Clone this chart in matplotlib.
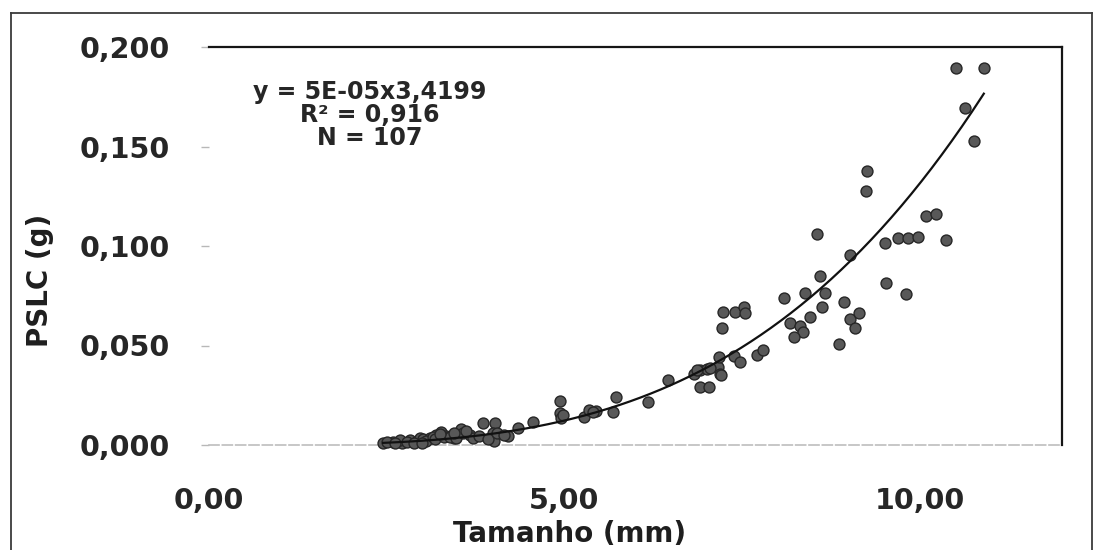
import numpy as np
import matplotlib
matplotlib.use("Agg")
import matplotlib.pyplot as plt
from matplotlib.ticker import FuncFormatter, FixedLocator
from matplotlib.lines import Line2D

# ---- data ----
tamanho_mm = [
    2.45, 2.59, 2.71, 2.83, 2.92, 2.97, 3.01, 3.11, 3.20, 3.27,
    3.34, 3.44, 3.53, 3.55, 3.67, 3.72, 3.86, 4.02, 4.00, 4.01,
    4.21, 4.35, 4.56, 4.94, 4.94, 4.95, 5.27, 5.34, 5.45, 5.68,
    5.73, 6.17, 6.46, 6.82, 6.91, 7.00, 7.16, 7.19, 6.91, 7.03,
    7.18, 7.39, 7.47, 7.71, 7.80, 7.21, 7.23, 7.40, 7.53, 7.54,
    8.09, 8.17, 8.31, 8.36, 8.23, 8.38, 8.45, 8.56, 8.59, 8.66,
    8.63, 8.86, 8.93, 9.02, 9.02, 9.15, 9.09, 9.25, 9.24, 9.51,
    9.53, 9.69, 9.84, 9.98, 9.80, 10.09, 10.23, 10.37, 10.51, 10.63,
    10.76, 10.90, 2.50, 2.69, 2.78, 2.88, 3.05, 3.15, 3.18, 3.30,
    3.39, 3.48, 3.58, 3.62, 3.80, 3.92, 4.05, 4.15, 2.62, 3.25,
    3.45, 6.86, 7.05, 7.20, 5.40, 4.98, 3.00,
]
pslc_g = [
    0.0008, 0.0015, 0.0010, 0.0025, 0.0020, 0.0034, 0.0029, 0.0035, 0.0050, 0.0065,
    0.0045, 0.0034, 0.0059, 0.0079, 0.0050, 0.0034, 0.0109, 0.0110, 0.0059, 0.0020,
    0.0045, 0.0084, 0.0115, 0.0223, 0.0159, 0.0134, 0.0139, 0.0176, 0.0172, 0.0167,
    0.0241, 0.0218, 0.0327, 0.0359, 0.0379, 0.0380, 0.0393, 0.0357, 0.0290, 0.0290,
    0.0441, 0.0447, 0.0415, 0.0452, 0.0477, 0.0588, 0.0666, 0.0666, 0.0695, 0.0662,
    0.0740, 0.0615, 0.0598, 0.0569, 0.0541, 0.0765, 0.0645, 0.1060, 0.0851, 0.0766,
    0.0695, 0.0508, 0.0718, 0.0955, 0.0633, 0.0664, 0.0588, 0.1378, 0.1276, 0.1017,
    0.0816, 0.1039, 0.1042, 0.1047, 0.0759, 0.1151, 0.1159, 0.1029, 0.1894, 0.1691,
    0.1529, 0.1894, 0.0017, 0.0025, 0.0017, 0.0012, 0.0020, 0.0042, 0.0030, 0.0040,
    0.0042, 0.0034, 0.0059, 0.0070, 0.0045, 0.0030, 0.0060, 0.0050, 0.0008, 0.0055,
    0.0060, 0.0377, 0.0385, 0.0352, 0.0165, 0.0150, 0.0010,
]
# power trendline shown on the chart: y = 5E-05 x^3,4199
fit_a = 5e-5
fit_b = 3.4199
x_ticks = [0, 5, 10]
y_ticks = [0.0, 0.05, 0.10, 0.15, 0.20]
eq_text = "y = 5E-05x3,4199\nR² = 0,916\nN = 107"

W, H = 1105, 550
fig = plt.figure(figsize=(W / 100, H / 100), dpi=100)
fig.patch.set_facecolor("white")

L, R, T, B = 209, 1062, 47, 445
ax = fig.add_axes([L / W, 1 - B / H, (R - L) / W, (B - T) / H])
ax.set_facecolor("white")

ax.scatter(tamanho_mm, pslc_g, s=62, facecolor="#585858", edgecolor="#262626",
           linewidth=1.0, zorder=3, clip_on=False)

xs = np.linspace(min(tamanho_mm), max(tamanho_mm), 300)
ax.plot(xs, fit_a * xs ** fit_b, color="#111111", lw=1.6, zorder=4)

ax.set_xlim(0, 12)
ax.set_ylim(0, 0.2)
ax.xaxis.set_major_locator(FixedLocator(x_ticks))
ax.yaxis.set_major_locator(FixedLocator(y_ticks))
ax.xaxis.set_major_formatter(FuncFormatter(lambda v, p: f"{v:.2f}".replace(".", ",")))
ax.yaxis.set_major_formatter(FuncFormatter(lambda v, p: f"{v:.3f}".replace(".", ",")))

font = dict(family="DejaVu Sans", weight="bold")
for lab in ax.get_xticklabels() + ax.get_yticklabels():
    lab.set_fontfamily("DejaVu Sans")
    lab.set_fontweight("bold")
    lab.set_fontsize(20.5)
    lab.set_color("#262626")
ax.tick_params(axis="y", direction="out", length=6, width=1, color="#b8b8b8", pad=22)
ax.tick_params(axis="x", length=0, pad=30)

for s in ("top", "right"):
    ax.spines[s].set_color("#151515")
    ax.spines[s].set_linewidth(1.6)
ax.spines["left"].set_visible(False)
ax.spines["bottom"].set_color("#bdbdbd")
ax.spines["bottom"].set_linewidth(1.2)
ax.spines["bottom"].set_linestyle((0, (6, 2)))

ax.set_xlabel("Tamanho (mm)", fontsize=20, color="#1e1e1e", **font)
ax.xaxis.set_label_coords((570 - L) / (R - L), (B - 534) / (B - T))
ax.xaxis.label.set_va("center")
ax.set_ylabel("PSLC (g)", fontsize=20, color="#1e1e1e", **font)
ax.yaxis.set_label_coords((40 - L) / (R - L), (B - 280) / (B - T))
ax.yaxis.label.set_va("center")

ax.text((370 - L) / (R - L), (B - 115) / (B - T), eq_text, transform=ax.transAxes,
        ha="center", va="center", fontsize=17, color="#262626", linespacing=0.95,
        multialignment="center", **font)

# outer chart frame (bottom edge lies outside the picture)
fx0, fx1, fy0 = 11 / W, 1092 / W, 1 - 13 / H
frame_kw = dict(transform=fig.transFigure, color="#3a3a3a", lw=1.3)
fig.add_artist(Line2D([fx0, fx1], [fy0, fy0], **frame_kw))
fig.add_artist(Line2D([fx0, fx0], [fy0, -0.01], **frame_kw))
fig.add_artist(Line2D([fx1, fx1], [fy0, -0.01], **frame_kw))

fig.savefig("out.png", dpi=100, facecolor="white")
